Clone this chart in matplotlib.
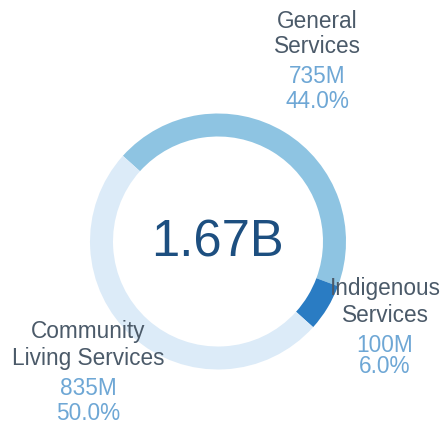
import matplotlib
matplotlib.use("Agg")
import matplotlib.pyplot as plt

# Budget by program area (millions)
categories = ["General\nServices", "Indigenous\nServices", "Community\nLiving Services"]
values_m = [735, 100, 835]
colors = ["#8ec4e2", "#2a7cc3", "#dcebf8"]

total = sum(values_m)

W, H = 441, 426
fig = plt.figure(figsize=(W / 100, H / 100), dpi=100)
ax = fig.add_axes([0, 0, 1, 1])

cx, cy, r = 218, H - 241.5, 128
ax.pie(values_m, colors=colors, startangle=138, counterclock=False,
       radius=r, center=(cx, cy), frame=True,
       wedgeprops=dict(width=23, linewidth=0))

ax.set_xlim(0, W)
ax.set_ylim(0, H)
ax.set_aspect("equal")
ax.axis("off")

font = "Liberation Sans"
name_color = "#4b5a69"
value_color = "#6ea7d5"

ax.text(cx - 1, H - 243, f"{total / 1000:.2f}B", ha="center", va="center",
        fontsize=36.5, color="#1d4f80", family=font)

# label block anchors: x centre and baselines of the four lines
label_pos = [
    (317, [28, 53, 83, 108]),
    (385, [295, 322, 352, 373]),
    (88, [338, 365, 395, 420]),
]

for name, val, (x, ys) in zip(categories, values_m, label_pos):
    n1, n2 = name.split("\n")
    pct = val / total * 100
    lines = [(n1, name_color), (n2, name_color),
             (f"{val}M", value_color), (f"{pct:.1f}%", value_color)]
    for (txt, col), y in zip(lines, ys):
        ax.text(x, H - y, txt, ha="center", va="baseline",
                fontsize=16.3, color=col, family=font)

fig.savefig("out.png", dpi=100)
